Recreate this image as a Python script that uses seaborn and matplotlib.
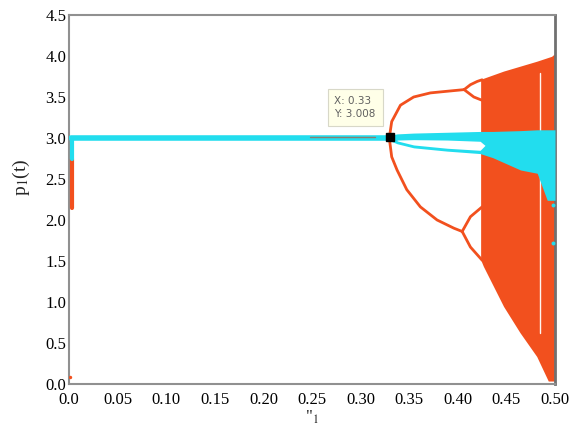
import matplotlib
matplotlib.use("Agg")
import matplotlib.pyplot as plt
import seaborn as sns
import pandas as pd

# --- values (bifurcation diagram, mu_1 vs p_1(t)) ---
x_ticks = [0.0, 0.05, 0.10, 0.15, 0.20, 0.25, 0.30, 0.35, 0.40, 0.45, 0.50]
x_tick_labels = ['0.0', '0.05', '0.10', '0.15', '0.20', '0.25', '0.30', '0.35', '0.40', '0.45', '0.50']
y_ticks = [0.0, 0.5, 1.0, 1.5, 2.0, 2.5, 3.0, 3.5, 4.0, 4.5]
y_tick_labels = ['0.0', '0.5', '1.0', '1.5', '2.0', '2.5', '3.0', '3.5', '4.0', '4.5']

# transient column at mu_1 = 0
onset_mu = [0.003, 0.003]
onset_red = [2.15, 2.75]
onset_cyan = [2.75, 3.0]
stray_red_mu = [0.001]
stray_red_p = [0.09]

# cyan steady state
steady_mu = [0.002, 0.33]
steady_p = [3.0, 3.0]

# orange period-2 branches
p2_up_mu = [0.3295, 0.332, 0.341, 0.3546, 0.3718, 0.389, 0.4065]
p2_up = [3.00, 3.20, 3.40, 3.50, 3.55, 3.57, 3.59]
p2_lo_mu = [0.3295, 0.332, 0.3375, 0.3475, 0.3615, 0.3787, 0.396, 0.4045]
p2_lo = [3.00, 2.77, 2.61, 2.37, 2.16, 2.00, 1.90, 1.86]

# orange period-4 bubbles
p4a_mu = [0.4065, 0.413, 0.420, 0.425]
p4a = [3.59, 3.65, 3.69, 3.71]
p4b_mu = [0.4065, 0.4165, 0.425]
p4b = [3.59, 3.50, 3.46]
p4c_mu = [0.4045, 0.413, 0.425]
p4c = [1.86, 2.04, 2.16]
p4d_mu = [0.4045, 0.413, 0.425]
p4d = [1.86, 1.67, 1.51]

# orange chaotic region envelope
chaos_up_mu = [0.424, 0.4476, 0.4817, 0.497, 0.500]
chaos_up = [3.71, 3.81, 3.93, 3.99, 4.02]
chaos_lo_mu = [0.500, 0.4936, 0.4817, 0.4645, 0.4476, 0.4268, 0.424]
chaos_lo = [0.03, 0.03, 0.33, 0.62, 0.94, 1.43, 1.51]
window_mu = [0.485, 0.485]
window_p = [0.62, 3.79]

# cyan band after the split
cyan_mu = [0.3295, 0.3375, 0.3546, 0.389, 0.423, 0.436, 0.4645, 0.4817, 0.492, 0.500]
cyan_up = [3.03, 3.05, 3.06, 3.07, 3.08, 3.08, 3.09, 3.10, 3.10, 3.10]
cyan_lo = [2.97, 2.93, 2.88, 2.84, 2.81, 2.76, 2.61, 2.57, 2.24, 2.24]
gap_mu = [0.3375, 0.3546, 0.389, 0.423, 0.428]
gap_up = [2.975, 2.98, 2.975, 2.96, 2.91]
gap_lo = [2.965, 2.915, 2.875, 2.85, 2.91]
stray_cyan_mu = [0.4975, 0.4975]
stray_cyan_p = [2.18, 1.72]

# data tip
tip_mu = 0.33
tip_p = 3.008
tip_shadow_mu = [0.248, 0.315]
tip_shadow_p = [3.01, 3.01]

RED = '#F2501E'
CYAN = '#22DDEE'

sns.set_style('white')
plt.rcParams['font.family'] = ['Liberation Serif', 'DejaVu Serif']
plt.rcParams['mathtext.fontset'] = 'stix'

fig = plt.figure(figsize=(5.72, 4.25), dpi=100)
ax = fig.add_axes([69 / 572, 1 - 384 / 425, 486 / 572, 369 / 425])


def branch(mu, p, color, lw, z):
    df = pd.DataFrame({'mu': mu, 'p': p})
    sns.lineplot(data=df, x='mu', y='p', sort=False, estimator=None,
                 color=color, lw=lw, ax=ax, zorder=z)


# orange series
ax.fill(chaos_up_mu + chaos_lo_mu, chaos_up + chaos_lo, color=RED, lw=0, zorder=2)
branch(window_mu, window_p, '#FFF4F0', 1.0, 2.5)
branch(onset_mu, onset_red, RED, 3.0, 3)
for mu, p in [(p2_up_mu, p2_up), (p2_lo_mu, p2_lo), (p4a_mu, p4a),
              (p4b_mu, p4b), (p4c_mu, p4c), (p4d_mu, p4d)]:
    branch(mu, p, RED, 2.0, 3)
sns.scatterplot(x=stray_red_mu, y=stray_red_p, color=RED, s=6, lw=0, ax=ax, zorder=3)

# cyan series
branch(onset_mu, onset_cyan, CYAN, 3.0, 4)
branch(steady_mu, steady_p, CYAN, 4.0, 4)
ax.fill_between(cyan_mu, cyan_lo, cyan_up, color=CYAN, lw=0, zorder=4)
ax.fill_between(gap_mu, gap_lo, gap_up, color='white', lw=0, zorder=4.5)
sns.scatterplot(x=stray_cyan_mu, y=stray_cyan_p, color=CYAN, s=8, lw=0, ax=ax, zorder=4)

# data tip
branch(tip_shadow_mu, tip_shadow_p, '#8a7f70', 1.0, 5)
ax.plot([tip_mu], [tip_p], marker='s', ms=6, color='black', zorder=6)
ax.annotate('X: 0.33\nY: 3.008', xy=(tip_mu, tip_p), xytext=(-10, 13),
            textcoords='offset points', ha='right', va='bottom', multialignment='left',
            fontsize=7.5, color='#606060', family='DejaVu Sans', linespacing=1.4,
            bbox=dict(boxstyle='square,pad=0.65', fc='#FFFFE8', ec='#D8D8C8', lw=0.8),
            zorder=7)

ax.set_xlim(0, 0.5)
ax.set_ylim(0, 4.5)
ax.set_xticks(x_ticks)
ax.set_xticklabels(x_tick_labels)
ax.set_yticks(y_ticks)
ax.set_yticklabels(y_tick_labels)
ax.tick_params(direction='in', length=3, width=1, color='#808080',
               labelsize=12, pad=2, labelcolor='black')
ax.tick_params(axis='x', pad=6)
for side in ['left', 'bottom', 'top']:
    ax.spines[side].set_color('#909090')
    ax.spines[side].set_linewidth(1.5)
ax.spines['right'].set_color('#707070')
ax.spines['right'].set_linewidth(2.0)

ax.set_xlabel('"$_{1}$', fontsize=12, labelpad=0)
ax.set_ylabel('p$_{1}$(t)', fontsize=14)
ax.yaxis.set_label_coords(-0.076, 0.561)

fig.savefig('out.png', dpi=100)
plt.close(fig)
